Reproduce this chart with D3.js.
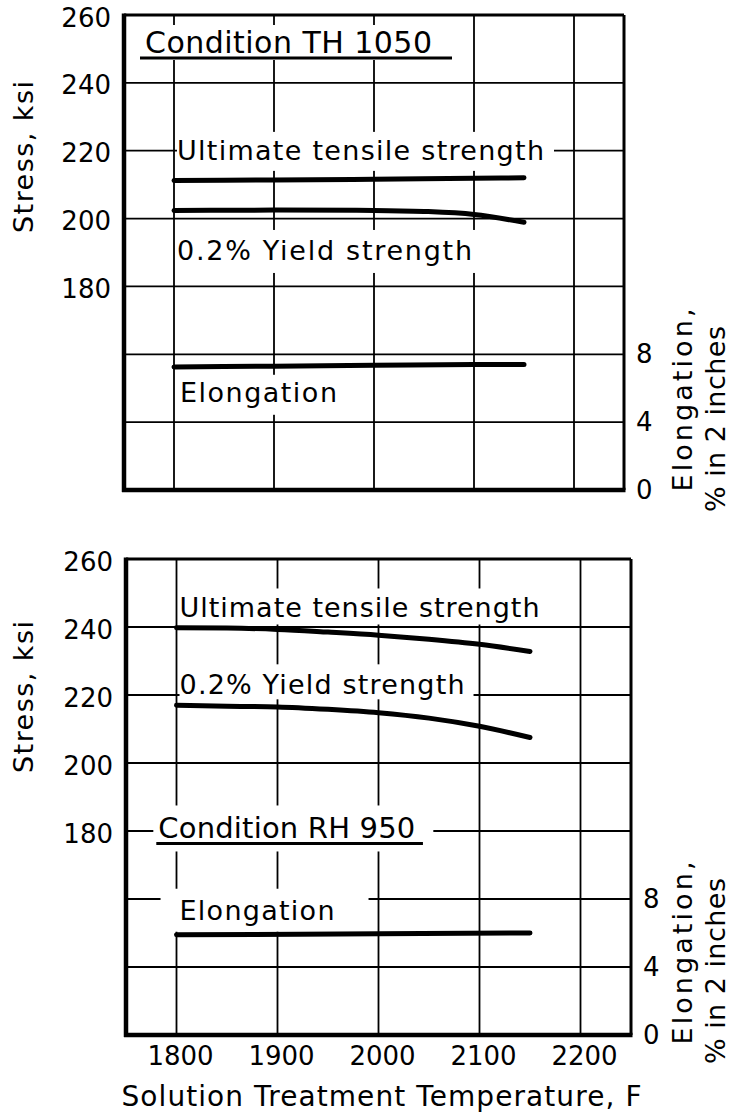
<!DOCTYPE html>
<html><head><meta charset="utf-8">
<script src="https://cdn.jsdelivr.net/npm/d3@7"></script>
<style>
body{margin:0;background:#fff;}
svg{display:block;background:#fff;}
text{font-family:"DejaVu Sans",sans-serif;fill:#000;}
</style>
</head><body>
<svg id="c" width="733" height="1114"></svg>
<script>
// ---------- data ----------
const xTicks = [1800, 1900, 2000, 2100, 2200];
const stressTicks = [180, 200, 220, 240, 260];
const stressGrid = [120, 140, 160, 180, 200, 220, 240, 260];
const elongTicks = [0, 4, 8];

// Condition TH 1050
const thUtsTemp = [1800, 1900, 2000, 2100, 2150];
const thUts     = [211.2, 211.4, 211.6, 211.9, 212.0];
const thYsTemp  = [1800, 1900, 2000, 2050, 2100, 2150];
const thYs      = [202.4, 202.5, 202.4, 202.1, 201.2, 198.9];
const thElTemp  = [1800, 1900, 2000, 2100, 2150];
const thEl      = [7.25, 7.3, 7.35, 7.4, 7.4];

// Condition RH 950
const rhUtsTemp = [1800, 1850, 1900, 1950, 2000, 2050, 2100, 2150];
const rhUts     = [239.8, 239.7, 239.3, 238.5, 237.6, 236.4, 234.9, 232.8];
const rhYsTemp  = [1800, 1850, 1900, 1950, 2000, 2050, 2100, 2150];
const rhYs      = [217.0, 216.7, 216.5, 215.8, 214.8, 213.2, 210.8, 207.5];
const rhElTemp  = [1800, 2000, 2150];
const rhEl      = [5.9, 5.95, 6.0];

// ---------- drawing ----------
const svg = d3.select("#c");

function drawPanel(cfg) {
  const xs = d3.scaleLinear().domain([1750, 2250]).range([cfg.x0, cfg.x1]);
  const ys = d3.scaleLinear().domain([120, 260]).range([cfg.y1, cfg.y0]);
  const ye = d3.scaleLinear().domain([0, 28]).range([cfg.y1, cfg.y0]);

  const g = svg.append("g");
  const gGrid = g.append("g");
  const gBox = g.append("g");
  const gFrame = g.append("g");
  const gCurve = g.append("g");
  const gText = g.append("g");

  // grid
  gGrid.selectAll("line.h").data(stressGrid).join("line")
    .attr("x1", cfg.x0).attr("x2", cfg.x1)
    .attr("y1", d => ys(d)).attr("y2", d => ys(d))
    .attr("stroke", "#000").attr("stroke-width", 1.8);
  gGrid.selectAll("line.v").data(xTicks).join("line")
    .attr("x1", d => xs(d)).attr("x2", d => xs(d))
    .attr("y1", cfg.y0).attr("y2", cfg.y1)
    .attr("stroke", "#000").attr("stroke-width", 1.8);

  // labels with white backgrounds
  function label(str, x, y, size, width, pad) {
    const t = gText.append("text").attr("x", x).attr("y", y)
      .attr("font-size", size).text(str);
    if (width) t.attr("textLength", width).attr("lengthAdjust", "spacing");
    const b = t.node().getBBox();
    gBox.append("rect")
      .attr("x", b.x - pad.l).attr("y", b.y - pad.t)
      .attr("width", b.width + pad.l + pad.r)
      .attr("height", b.height + pad.t + pad.b)
      .attr("fill", "#fff");
    return t;
  }
  cfg.labels.forEach(L => {
    label(L.text, xs(L.t), ys(L.s), L.size, L.width, L.pad);
    if (L.underline) {
      gText.append("line")
        .attr("x1", xs(L.underline[0])).attr("x2", xs(L.underline[1]))
        .attr("y1", ys(L.underline[2])).attr("y2", ys(L.underline[2]))
        .attr("stroke", "#000").attr("stroke-width", 3);
    }
  });

  // frame
  gFrame.append("line").attr("x1", cfg.x0).attr("x2", cfg.x1).attr("y1", cfg.y0).attr("y2", cfg.y0)
    .attr("stroke", "#000").attr("stroke-width", 3);
  gFrame.append("line").attr("x1", cfg.x1).attr("x2", cfg.x1).attr("y1", cfg.y0).attr("y2", cfg.y1)
    .attr("stroke", "#000").attr("stroke-width", 3);
  gFrame.append("line").attr("x1", cfg.x0).attr("x2", cfg.x0).attr("y1", cfg.y0 - 1.5).attr("y2", cfg.y1 + 2)
    .attr("stroke", "#000").attr("stroke-width", 4.5);
  gFrame.append("line").attr("x1", cfg.x0 - 2).attr("x2", cfg.x1 + 1.5).attr("y1", cfg.y1).attr("y2", cfg.y1)
    .attr("stroke", "#000").attr("stroke-width", 4.5);

  // curves
  const lineS = d3.line().x(d => xs(d[0])).y(d => ys(d[1])).curve(d3.curveMonotoneX);
  const lineE = d3.line().x(d => xs(d[0])).y(d => ye(d[1])).curve(d3.curveMonotoneX);
  [[cfg.utsT, cfg.uts], [cfg.ysT, cfg.ys]].forEach(([T, V]) => {
    gCurve.append("path").attr("d", lineS(T.map((t, i) => [t, V[i]])))
      .attr("fill", "none").attr("stroke", "#000").attr("stroke-width", 5)
      .attr("stroke-linecap", "round").attr("stroke-linejoin", "round");
  });
  gCurve.append("path").attr("d", lineE(cfg.elT.map((t, i) => [t, cfg.el[i]])))
    .attr("fill", "none").attr("stroke", "#000").attr("stroke-width", 5)
    .attr("stroke-linecap", "round").attr("stroke-linejoin", "round");

  // left tick labels
  gText.selectAll("text.ls").data(stressTicks).join("text")
    .attr("x", cfg.x0 - 13).attr("y", d => ys(d) + 2.5)
    .attr("text-anchor", "end").attr("dominant-baseline", "central")
    .attr("font-size", 26).text(d => d);
  // right tick labels
  gText.selectAll("text.rs").data(elongTicks).join("text")
    .attr("x", cfg.x1 + 12).attr("y", d => ye(d))
    .attr("text-anchor", "start").attr("dominant-baseline", "central")
    .attr("font-size", 26).text(d => d);

  // axis titles
  gText.append("text").attr("transform", `translate(33,${cfg.stressMid}) rotate(-90)`)
    .attr("text-anchor", "middle").attr("font-size", 27)
    .attr("textLength", 152).attr("lengthAdjust", "spacing").text("Stress, ksi");
  gText.append("text").attr("transform", `translate(692,${cfg.elMid1}) rotate(-90)`)
    .attr("text-anchor", "middle").attr("font-size", 27)
    .attr("textLength", 183).attr("lengthAdjust", "spacing").text("Elongation,");
  gText.append("text").attr("transform", `translate(725,${cfg.elMid2}) rotate(-90)`)
    .attr("text-anchor", "middle").attr("font-size", 27)
    .attr("textLength", 186).attr("lengthAdjust", "spacing").text("% in 2 inches");

  if (cfg.xLabels) {
    gText.selectAll("text.xt").data(xTicks).join("text")
      .attr("x", d => xs(d) + 4).attr("y", cfg.y1 + 30)
      .attr("text-anchor", "middle").attr("font-size", 26).text(d => d);
    gText.append("text").attr("x", (xs(1750) + xs(2250)) / 2 + 3).attr("y", cfg.y1 + 71)
      .attr("text-anchor", "middle").attr("font-size", 28)
      .attr("textLength", 520).attr("lengthAdjust", "spacing")
      .text("Solution Treatment Temperature, F");
  }
}

drawPanel({
  x0: 124, x1: 624, y0: 15, y1: 490,
  utsT: thUtsTemp, uts: thUts, ysT: thYsTemp, ys: thYs, elT: thElTemp, el: thEl,
  stressMid: 157, elMid1: 400, elMid2: 419, xLabels: false,
  labels: [
    {text: "Condition TH 1050", t: 1771, s: 248.8, size: 30, width: 287, pad: {l: 5, r: 20, t: 0, b: 0},
     underline: [1766, 2078, 247.3]},
    {text: "Ultimate tensile strength", t: 1803, s: 217.3, size: 27, width: 367, pad: {l: 0, r: 10, t: 3, b: 5}},
    {text: "0.2% Yield strength", t: 1803, s: 187.8, size: 27, width: 295, pad: {l: 0, r: 8, t: 5, b: 7}},
    {text: "Elongation", t: 1806, s: 146.0, size: 27, width: 157, pad: {l: 3, r: 8, t: 2, b: 7}}
  ]
});

drawPanel({
  x0: 126, x1: 631, y0: 559, y1: 1035,
  utsT: rhUtsTemp, uts: rhUts, ysT: rhYsTemp, ys: rhYs, elT: rhElTemp, el: rhEl,
  stressMid: 697, elMid1: 953, elMid2: 971, xLabels: true,
  labels: [
    {text: "Ultimate tensile strength", t: 1803, s: 242.8, size: 27, width: 360, pad: {l: 0, r: 8, t: 4, b: 1}},
    {text: "0.2% Yield strength", t: 1803, s: 220.2, size: 27, width: 285, pad: {l: 0, r: 9, t: 5, b: -1}},
    {text: "Condition RH 950", t: 1782, s: 177.8, size: 29, width: 257, pad: {l: 5, r: 18, t: 6, b: 6},
     underline: [1780, 2044, 176.3]},
    {text: "Elongation", t: 1803, s: 153.9, size: 27, width: 155, pad: {l: 19, r: 34, t: 6, b: 6}}
  ]
});
</script>
</body></html>
